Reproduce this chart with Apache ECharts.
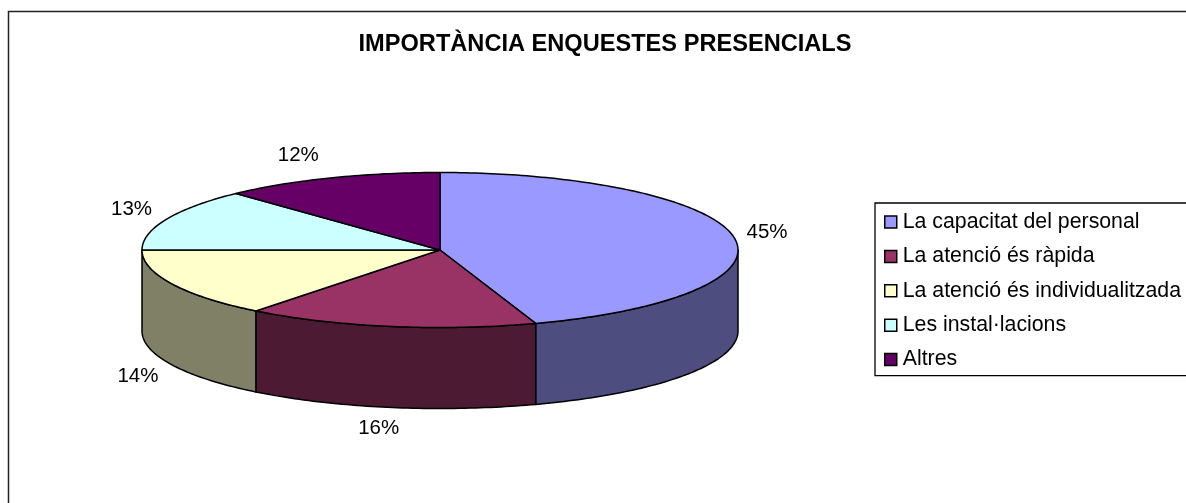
<!DOCTYPE html>
<html><head><meta charset="utf-8">
<style>html,body{margin:0;padding:0;background:#fff;overflow:hidden}#c{width:1186px;height:503px}</style>
<script src="https://cdn.jsdelivr.net/npm/echarts@6/dist/echarts.min.js"></script>
</head><body><div id="c"></div>
<script>
const chartTitle = 'IMPORTÀNCIA ENQUESTES PRESENCIALS';
const categories = ['La capacitat del personal','La atenció és ràpida','La atenció és individualitzada','Les instal·lacions','Altres'];
const values = [44.8, 15.8, 14.4, 13.0, 12.0];
const topColors = ['#9999FF','#993366','#FFFFCC','#CCFFFF','#660066'];
const sideColors = ['#4D4D80','#4D1A33','#808066','#668080','#330033'];
const labelOffsets = [[33,-5],[-11,21],[-34,11],[-35,-10],[-32,-23]];

const pie = {cx:440, cy:250, rx:298, ry:77.5, depth:81};
const FONT = '"Liberation Sans", Arial, sans-serif';
const total = values.reduce((a,b)=>a+b,0);
const rim = (deg, dy=0) => {
  const t = deg*Math.PI/180;
  return [pie.cx + pie.rx*Math.sin(t), pie.cy - pie.ry*Math.cos(t) + dy];
};
const arc = (a,b,dy=0) => {
  const pts=[], n=Math.max(2,Math.ceil(Math.abs(b-a)));
  for(let i=0;i<=n;i++) pts.push(rim(a+(b-a)*i/n,dy));
  return pts;
};
const stroke = {stroke:'#000', lineWidth:1.5, lineJoin:'round'};

function sliceRenderer(idx){
  return function(params, api){
    const before = values.slice(0,idx).reduce((a,b)=>a+b,0);
    const a0 = before/total*360, a1 = (before+api.value(0))/total*360;
    const children = [];
    const s0 = Math.max(a0,90), s1 = Math.min(a1,270);
    if (s1>s0) {
      children.push({type:'polygon', shape:{points:arc(s0,s1).concat(arc(s1,s0,pie.depth))},
        style:Object.assign({fill:sideColors[idx]},stroke)});
    }
    children.push({type:'polygon', shape:{points:[[pie.cx,pie.cy]].concat(arc(a0,a1))},
      style:Object.assign({fill:topColors[idx]},stroke)});
    const mid=(a0+a1)/2, lower = mid>90 && mid<270;
    const p = rim(mid, lower?pie.depth:0);
    children.push({type:'text', style:{text:Math.round(api.value(0))+'%',
      x:p[0]+labelOffsets[idx][0], y:p[1]+labelOffsets[idx][1],
      align:'center', verticalAlign:'middle', fill:'#000', font:'20.5px '+FONT}});
    return {type:'group', children};
  };
}

const chart = echarts.init(document.getElementById('c'), null, {renderer:'canvas'});
chart.setOption({
  animation:false,
  backgroundColor:'#fff',
  title:{text:chartTitle, left:600, top:27, textAlign:'center',
    textStyle:{fontFamily:FONT,fontWeight:'bold',fontSize:23.6,color:'#000',lineHeight:24}},
  legend:{orient:'vertical', left:875, top:203, padding:[7,60,4,9], itemGap:10.4,
    width:400, itemWidth:12, itemHeight:12, icon:'rect', data:categories, selectedMode:false,
    backgroundColor:'#fff', borderColor:'#000', borderWidth:1.3, borderRadius:0,
    itemStyle:{borderColor:'#000',borderWidth:1.5},
    textStyle:{fontFamily:FONT,fontSize:21.3,color:'#000',padding:[0,0,0,1],lineHeight:24}},
  graphic:[{type:'rect', silent:true, z:-10, shape:{x:8.5,y:11.5,width:1300,height:700},
    style:{fill:'#fff',stroke:'#222',lineWidth:1.5}}],
  series:categories.map((name,i)=>({
    type:'custom', name, coordinateSystem:'none', silent:true, clip:false,
    itemStyle:{color:topColors[i]},
    renderItem:sliceRenderer(i), data:[[values[i]]]
  }))
});
</script></body></html>
